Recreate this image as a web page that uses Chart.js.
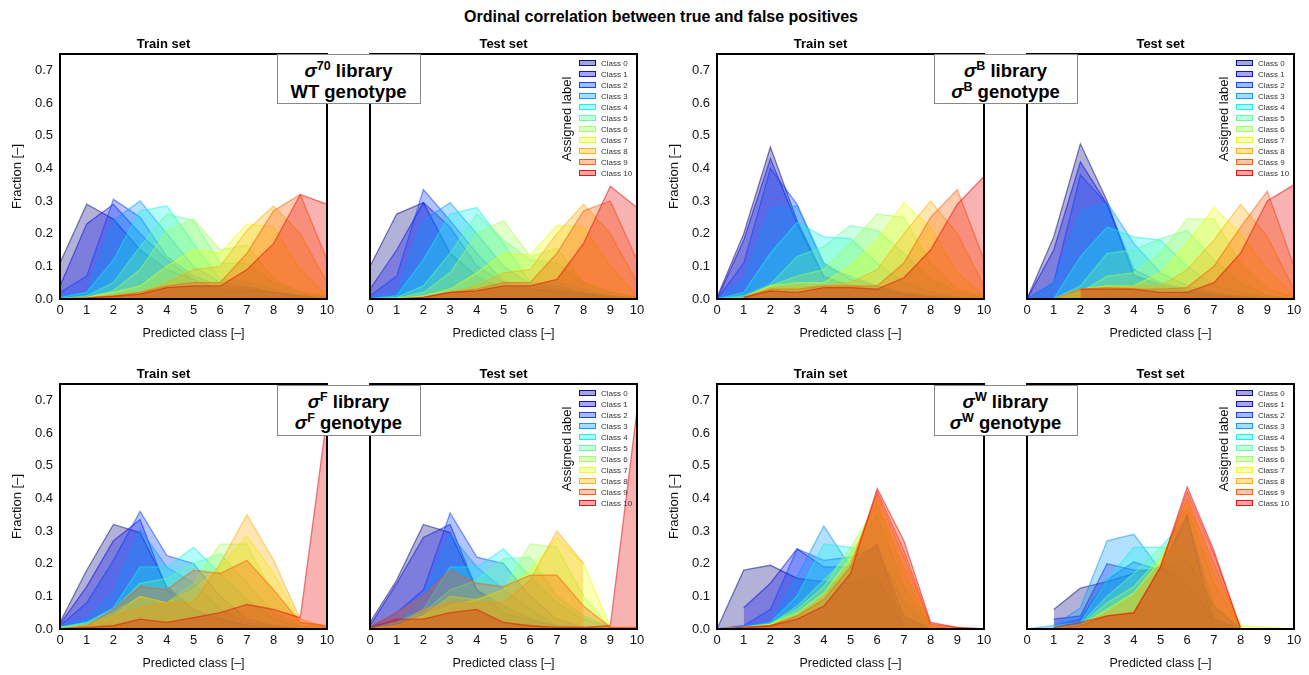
<!DOCTYPE html>
<html>
<head>
<meta charset="utf-8">
<script src="https://cdn.jsdelivr.net/npm/chart.js@4.4.1/dist/chart.umd.min.js"></script>
<style>
  body { margin: 0; background: #fff; font-family: "Liberation Sans", Arial, sans-serif; }
  #fig { position: relative; width: 1309px; height: 675px; overflow: hidden; }
  #suptitle { position: absolute; left: 0; width: 1322px; top: 7px; text-align: center; font-weight: bold; font-size: 16px; line-height: 20px; color: #000; }
  .tag { position: absolute; box-sizing: border-box; width: 144px; border: 1.5px solid #888; background: #fff; z-index: 5;
         text-align: center; font-weight: bold; font-size: 18.5px; line-height: 21px; padding-top: 5px; color: #000; }
  .tag sup { font-size: 12.5px; line-height: 0; vertical-align: 7px; }
  .legend { position: absolute; z-index: 4; font-size: 8px; color: #333; }
  .legend div { height: 11px; line-height: 11px; white-space: nowrap; }
  .legend span { display: inline-block; box-sizing: border-box; width: 17px; height: 6px; margin-right: 5px; vertical-align: -0.5px; }
  .asg { position: absolute; z-index: 4; width: 120px; text-align: center; font-size: 13px; line-height: 16px; color: #111; transform: rotate(-90deg); }
</style>
</head>
<body>
<div id="fig">
  <div id="suptitle">Ordinal correlation between true and false positives</div>
</div>
<script>
const xClasses = [0, 1, 2, 3, 4, 5, 6, 7, 8, 9, 10];
const classNames = ['Class 0', 'Class 1', 'Class 2', 'Class 3', 'Class 4', 'Class 5',
                    'Class 6', 'Class 7', 'Class 8', 'Class 9', 'Class 10'];
const classColors = [[0, 0, 128], [0, 0, 233], [0, 58, 255], [0, 151, 255], [11, 243, 236], [86, 255, 161],
                     [161, 255, 86], [236, 255, 11], [255, 173, 0], [255, 87, 0], [233, 1, 0]];
const yTicks = [0, 0.1, 0.2, 0.3, 0.4, 0.5, 0.6, 0.7];

// sigma70 library, WT genotype
const wtTrain = [
  [0.11, 0.29, 0.245, 0.15, 0.09, 0.06, 0.02, 0.025, 0.02, 0.005, 0.0],
  [0.04, 0.23, 0.29, 0.2, 0.12, 0.06, 0.03, 0.03, 0.02, 0.01, 0.0],
  [0.02, 0.07, 0.305, 0.25, 0.13, 0.07, 0.04, 0.035, 0.02, 0.01, 0.0],
  [0.01, 0.02, 0.24, 0.3, 0.2, 0.1, 0.05, 0.04, 0.02, 0.01, 0.0],
  [0.005, 0.02, 0.12, 0.27, 0.285, 0.17, 0.06, 0.05, 0.03, 0.01, 0.0],
  [0.0, 0.01, 0.05, 0.16, 0.26, 0.24, 0.11, 0.11, 0.05, 0.02, 0.005],
  [0.0, 0.005, 0.025, 0.09, 0.21, 0.245, 0.15, 0.165, 0.06, 0.02, 0.01],
  [0.0, 0.005, 0.02, 0.04, 0.1, 0.15, 0.14, 0.23, 0.22, 0.09, 0.01],
  [0.0, 0.003, 0.01, 0.02, 0.05, 0.09, 0.1, 0.21, 0.285, 0.2, 0.05],
  [0.0, 0.003, 0.01, 0.02, 0.04, 0.05, 0.05, 0.14, 0.27, 0.32, 0.12],
  [0.0, 0.003, 0.008, 0.015, 0.035, 0.04, 0.04, 0.09, 0.17, 0.32, 0.29]
];
const wtTest = [
  [0.1, 0.26, 0.295, 0.14, 0.07, 0.03, 0.03, 0.025, 0.015, 0.005, 0.0],
  [0.03, 0.15, 0.295, 0.22, 0.1, 0.05, 0.03, 0.02, 0.015, 0.005, 0.0],
  [0.01, 0.07, 0.335, 0.24, 0.14, 0.055, 0.04, 0.03, 0.02, 0.005, 0.0],
  [0.005, 0.02, 0.24, 0.295, 0.2, 0.1, 0.045, 0.04, 0.02, 0.01, 0.0],
  [0.0, 0.01, 0.12, 0.26, 0.28, 0.17, 0.05, 0.05, 0.03, 0.01, 0.0],
  [0.0, 0.005, 0.04, 0.14, 0.26, 0.18, 0.12, 0.11, 0.05, 0.02, 0.005],
  [0.0, 0.003, 0.02, 0.08, 0.2, 0.24, 0.13, 0.155, 0.05, 0.02, 0.005],
  [0.0, 0.0, 0.01, 0.03, 0.08, 0.14, 0.135, 0.225, 0.22, 0.1, 0.01],
  [0.0, 0.0, 0.005, 0.02, 0.04, 0.08, 0.09, 0.2, 0.29, 0.2, 0.05],
  [0.0, 0.0, 0.005, 0.02, 0.03, 0.05, 0.05, 0.14, 0.27, 0.3, 0.12],
  [0.0, 0.0, 0.005, 0.02, 0.025, 0.04, 0.04, 0.06, 0.17, 0.345, 0.28]
];

// sigmaB library, sigmaB genotype
const bTrain = [
  [0.005, 0.2, 0.465, 0.24, 0.07, 0.04, 0.03, 0.01, 0.005, 0.0, 0.0],
  [0.0, 0.18, 0.43, 0.23, 0.065, 0.04, 0.03, 0.015, 0.005, 0.0, 0.0],
  [0.0, 0.11, 0.4, 0.29, 0.11, 0.06, 0.04, 0.015, 0.005, 0.0, 0.0],
  [0.0, 0.06, 0.28, 0.285, 0.1, 0.07, 0.04, 0.02, 0.01, 0.005, 0.0],
  [0.0, 0.02, 0.14, 0.235, 0.19, 0.185, 0.11, 0.05, 0.02, 0.005, 0.0],
  [0.0, 0.01, 0.045, 0.13, 0.16, 0.225, 0.21, 0.14, 0.06, 0.02, 0.005],
  [0.0, 0.005, 0.04, 0.07, 0.09, 0.17, 0.26, 0.25, 0.11, 0.03, 0.01],
  [null, 0.005, 0.04, 0.05, 0.05, 0.1, 0.18, 0.295, 0.22, 0.08, 0.01],
  [null, 0.005, 0.035, 0.04, 0.04, 0.05, 0.09, 0.2, 0.3, 0.2, 0.04],
  [null, 0.005, 0.03, 0.03, 0.04, 0.04, 0.04, 0.11, 0.25, 0.335, 0.12],
  [null, 0.005, 0.025, 0.02, 0.035, 0.035, 0.03, 0.065, 0.15, 0.29, 0.375]
];
const bTest = [
  [0.0, 0.19, 0.475, 0.3, 0.07, 0.04, 0.02, 0.01, 0.005, 0.0, 0.0],
  [0.0, 0.15, 0.42, 0.29, 0.075, 0.045, 0.025, 0.01, 0.005, 0.0, 0.0],
  [0.0, 0.05, 0.38, 0.29, 0.09, 0.05, 0.03, 0.015, 0.005, 0.0, 0.0],
  [0.0, 0.05, 0.27, 0.295, 0.17, 0.08, 0.04, 0.02, 0.01, 0.0, 0.0],
  [null, 0.0, 0.13, 0.22, 0.19, 0.18, 0.1, 0.04, 0.02, 0.005, 0.0],
  [null, 0.0, 0.04, 0.14, 0.15, 0.185, 0.21, 0.12, 0.05, 0.01, 0.0],
  [null, 0.0, 0.02, 0.07, 0.08, 0.14, 0.245, 0.245, 0.11, 0.03, 0.005],
  [null, 0.0, 0.03, 0.04, 0.04, 0.08, 0.17, 0.28, 0.2, 0.09, 0.01],
  [null, 0.0, 0.03, 0.035, 0.04, 0.04, 0.09, 0.18, 0.29, 0.19, 0.03],
  [null, 0.0, 0.03, 0.035, 0.03, 0.03, 0.035, 0.1, 0.22, 0.33, 0.1],
  [null, null, 0.03, 0.03, 0.03, 0.02, 0.02, 0.05, 0.14, 0.3, 0.35]
];

// sigmaF library, sigmaF genotype
const fTrain = [
  [0.02, 0.18, 0.32, 0.295, 0.13, 0.06, 0.03, 0.01, 0.005, 0.0, 0.0],
  [0.015, 0.13, 0.27, 0.335, 0.12, 0.06, 0.03, 0.01, 0.005, 0.0, 0.0],
  [0.01, 0.08, 0.21, 0.36, 0.225, 0.2, 0.1, 0.03, 0.01, 0.0, 0.0],
  [0.01, 0.03, 0.11, 0.305, 0.19, 0.14, 0.06, 0.02, 0.005, 0.0, 0.0],
  [0.005, 0.02, 0.065, 0.19, 0.19, 0.25, 0.17, 0.09, 0.03, 0.005, 0.0],
  [0.005, 0.02, 0.06, 0.14, 0.155, 0.2, 0.23, 0.14, 0.05, 0.01, 0.0],
  [0.005, 0.015, 0.05, 0.1, 0.08, 0.14, 0.26, 0.26, 0.1, 0.01, 0.005],
  [0.0, 0.01, 0.04, 0.1, 0.08, 0.12, 0.19, 0.285, 0.17, 0.02, 0.005],
  [0.0, 0.01, 0.04, 0.065, 0.08, 0.08, 0.2, 0.35, 0.21, 0.03, 0.005],
  [0.0, 0.01, 0.06, 0.13, 0.12, 0.18, 0.17, 0.21, 0.12, 0.02, 0.01],
  [0.0, 0.005, 0.01, 0.03, 0.02, 0.035, 0.05, 0.075, 0.06, 0.035, 0.65]
];
const fTest = [
  [0.02, 0.15, 0.32, 0.295, 0.12, 0.07, 0.03, 0.01, 0.005, 0.0, 0.0],
  [0.01, 0.14, 0.28, 0.32, 0.12, 0.05, 0.025, 0.01, 0.005, 0.0, 0.0],
  [0.005, 0.05, 0.12, 0.355, 0.22, 0.2, 0.1, 0.03, 0.005, 0.0, 0.0],
  [0.005, 0.02, 0.1, 0.29, 0.19, 0.12, 0.06, 0.01, 0.005, 0.0, 0.0],
  [0.0, 0.02, 0.06, 0.19, 0.19, 0.245, 0.16, 0.08, 0.03, 0.005, 0.0],
  [0.0, 0.02, 0.05, 0.12, 0.15, 0.215, 0.22, 0.1, 0.04, 0.005, 0.0],
  [0.0, 0.01, 0.04, 0.07, 0.09, 0.12, 0.26, 0.25, 0.1, 0.005, 0.0],
  [0.0, 0.01, 0.04, 0.1, 0.09, 0.12, 0.18, 0.28, 0.2, 0.005, 0.0],
  [0.0, 0.005, 0.06, 0.08, 0.08, 0.08, 0.15, 0.3, 0.2, null, null],
  [0.01, 0.05, 0.1, 0.18, 0.14, 0.13, 0.165, 0.165, 0.07, 0.005, 0.005],
  [0.005, 0.03, 0.03, 0.05, 0.06, 0.02, 0.01, 0.005, 0.005, 0.01, 0.67]
];

// sigmaW library, sigmaW genotype
const wTrain = [
  [0.0, 0.18, 0.195, 0.155, 0.145, 0.14, 0.16, 0.0, 0.0, 0.0, 0.0],
  [null, 0.065, 0.14, 0.245, 0.19, 0.19, 0.26, 0.0, 0.0, 0.0, 0.0],
  [0.0, 0.01, 0.06, 0.245, 0.21, 0.22, 0.25, 0.04, 0.0, 0.0, 0.0],
  [0.0, 0.01, 0.02, 0.16, 0.315, 0.19, 0.15, 0.04, 0.0, 0.0, 0.0],
  [0.0, 0.005, 0.02, 0.1, 0.26, 0.25, 0.24, 0.08, 0.0, 0.0, 0.0],
  [0.0, 0.005, 0.015, 0.07, 0.15, 0.23, 0.35, 0.13, 0.005, 0.0, 0.0],
  [0.0, 0.005, 0.015, 0.06, 0.13, 0.25, 0.38, 0.17, 0.005, 0.0, 0.0],
  [0.0, 0.005, 0.015, 0.05, 0.11, 0.22, 0.39, 0.19, 0.005, 0.0, 0.0],
  [0.0, 0.005, 0.01, 0.04, 0.1, 0.2, 0.41, 0.22, 0.01, 0.0, 0.0],
  [0.0, 0.005, 0.01, 0.04, 0.09, 0.19, 0.42, 0.24, 0.015, 0.005, 0.0],
  [0.0, 0.005, 0.01, 0.03, 0.07, 0.17, 0.43, 0.27, 0.02, 0.005, 0.0]
];
const wTest = [
  [null, 0.06, 0.125, 0.145, 0.17, 0.19, 0.135, 0.03, 0.0, null, null],
  [null, 0.03, 0.04, 0.2, 0.18, 0.18, 0.35, 0.0, null, null, null],
  [null, 0.01, 0.03, 0.15, 0.205, 0.18, 0.21, 0.07, 0.0, null, null],
  [0.0, 0.01, 0.065, 0.27, 0.29, 0.18, 0.34, 0.03, 0.0, null, null],
  [null, 0.01, 0.02, 0.15, 0.25, 0.25, 0.34, 0.07, 0.0, null, null],
  [null, 0.0, 0.015, 0.1, 0.17, 0.25, 0.245, 0.07, 0.0, null, null],
  [null, 0.0, 0.01, 0.08, 0.13, 0.22, 0.37, 0.14, 0.005, null, null],
  [null, 0.005, 0.01, 0.06, 0.11, 0.21, 0.39, 0.17, 0.01, 0.005, 0.0],
  [null, 0.0, 0.01, 0.05, 0.1, 0.2, 0.4, 0.2, 0.005, null, null],
  [null, 0.0, 0.01, 0.04, 0.05, 0.19, 0.42, 0.23, 0.005, null, null],
  [null, 0.005, 0.02, 0.04, 0.05, 0.19, 0.435, 0.24, 0.0, null, null]
];

Chart.defaults.font.family = '"Liberation Sans", Arial, sans-serif';
Chart.defaults.color = '#111';

const fig = document.getElementById('fig');
const PW = 267, PH = 245;

function rgba(c, a) {
  return 'rgba(' + c[0] + ',' + c[1] + ',' + c[2] + ',' + a + ')';
}

// black box round the plot area
const frame = {
  id: 'frame',
  afterDraw(chart) {
    const a = chart.chartArea;
    const ctx = chart.ctx;
    ctx.save();
    ctx.strokeStyle = '#000';
    ctx.lineWidth = 2;
    ctx.strokeRect(a.left, a.top, a.right - a.left, a.bottom - a.top);
    ctx.restore();
  }
};

function makePanel(rows, plotLeft, plotTop, isTrain) {
  const padL = isTrain ? 60 : 12;
  const w = padL + PW + 12, h = 20 + PH + 46;
  const cv = document.createElement('canvas');
  cv.width = w;
  cv.height = h;
  cv.style.cssText = 'position:absolute;left:' + (plotLeft - padL) + 'px;top:' + (plotTop - 20) + 'px;width:' + w + 'px;height:' + h + 'px';
  fig.appendChild(cv);

  const datasets = rows.map((vals, i) => ({
    label: classNames[i],
    data: vals.map((v, j) => ({ x: xClasses[j], y: v })),
    borderColor: rgba(classColors[i], 0.5),
    backgroundColor: rgba(classColors[i], 0.3),
    borderWidth: 1.3,
    fill: 'origin',
    pointRadius: 0,
    tension: 0,
    order: rows.length - i
  }));

  new Chart(cv.getContext('2d'), {
    type: 'line',
    data: { datasets: datasets },
    options: {
      responsive: false,
      animation: false,
      devicePixelRatio: 1,
      layout: { padding: { left: isTrain ? 0 : 12, right: 12, top: 0, bottom: 0 } },
      plugins: {
        legend: { display: false },
        tooltip: { enabled: false },
        title: {
          display: true,
          text: isTrain ? 'Train set' : 'Test set',
          color: '#000',
          font: { size: 13, weight: 'bold' },
          padding: { top: 2.2, bottom: 2.2 }
        }
      },
      scales: {
        x: {
          type: 'linear',
          min: 0,
          max: 10,
          grid: { display: false, drawTicks: false },
          border: { display: false },
          ticks: { stepSize: 1, font: { size: 13 }, color: '#111', padding: 4, maxRotation: 0 },
          title: { display: true, text: 'Predicted class [–]', font: { size: 12.5 }, color: '#111', padding: { top: 0, bottom: 3.5 } },
          afterFit(s) { s.height = 46; }
        },
        y: {
          display: isTrain,
          min: 0,
          max: 0.75,
          grid: { display: false, drawTicks: false },
          border: { display: false },
          afterBuildTicks(s) { s.ticks = yTicks.map(v => ({ value: v })); },
          ticks: { font: { size: 13 }, color: '#111', padding: 7, callback: v => v.toFixed(1) },
          title: { display: true, text: 'Fraction [–]', font: { size: 13 }, color: '#111', padding: { top: 9.2, bottom: 0 } },
          afterFit(s) { s.width = isTrain ? 60 : 0; }
        }
      }
    },
    plugins: [frame]
  });
}

function makeLegend(plotRight, plotTop) {
  const lg = document.createElement('div');
  lg.className = 'legend';
  lg.style.left = (plotRight - 58) + 'px';
  lg.style.top = (plotTop + 3.5) + 'px';
  classNames.forEach((name, i) => {
    const row = document.createElement('div');
    const patch = document.createElement('span');
    patch.style.background = rgba(classColors[i], 0.35);
    patch.style.border = '1px solid ' + rgba(classColors[i], 0.9);
    row.appendChild(patch);
    row.appendChild(document.createTextNode(name));
    lg.appendChild(row);
  });
  fig.appendChild(lg);

  const asg = document.createElement('div');
  asg.className = 'asg';
  asg.textContent = 'Assigned label';
  asg.style.left = (plotRight - 70.5 - 60) + 'px';
  asg.style.top = (plotTop + 65 - 8) + 'px';
  fig.appendChild(asg);
}

function makeTag(centerX, top, height, html) {
  const t = document.createElement('div');
  t.className = 'tag';
  t.style.left = (centerX - 72) + 'px';
  t.style.top = top + 'px';
  t.style.height = height + 'px';
  t.innerHTML = html;
  fig.appendChild(t);
}

// panel grid
const colsTrain = [60, 717];
const colsTest = [370, 1027];
const rowsTop = [54, 384];

makePanel(wtTrain, colsTrain[0], rowsTop[0], true);
makePanel(wtTest, colsTest[0], rowsTop[0], false);
makePanel(bTrain, colsTrain[1], rowsTop[0], true);
makePanel(bTest, colsTest[1], rowsTop[0], false);
makePanel(fTrain, colsTrain[0], rowsTop[1], true);
makePanel(fTest, colsTest[0], rowsTop[1], false);
makePanel(wTrain, colsTrain[1], rowsTop[1], true);
makePanel(wTest, colsTest[1], rowsTop[1], false);

colsTest.forEach(cx => rowsTop.forEach(ty => makeLegend(cx + PW, ty)));

makeTag((colsTrain[0] + PW + colsTest[0]) / 2, rowsTop[0], 50, '<i>σ</i><sup>70</sup> library<br>WT genotype');
makeTag((colsTrain[1] + PW + colsTest[1]) / 2, rowsTop[0], 50, '<i>σ</i><sup>B</sup> library<br><i>σ</i><sup>B</sup> genotype');
makeTag((colsTrain[0] + PW + colsTest[0]) / 2, rowsTop[1] + 1, 51, '<i>σ</i><sup>F</sup> library<br><i>σ</i><sup>F</sup> genotype');
makeTag((colsTrain[1] + PW + colsTest[1]) / 2, rowsTop[1] + 1, 51, '<i>σ</i><sup>W</sup> library<br><i>σ</i><sup>W</sup> genotype');
</script>
</body>
</html>
